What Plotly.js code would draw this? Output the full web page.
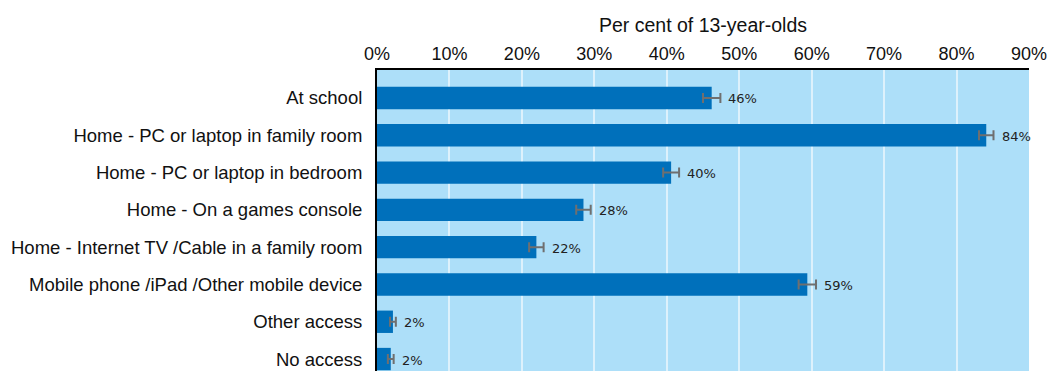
<!DOCTYPE html>
<html>
<head>
<meta charset="utf-8">
<script src="https://cdn.plot.ly/plotly-3.0.1.min.js"></script>
<style>html,body{margin:0;padding:0;background:#fff;}#chart{width:1055px;height:371px;}</style>
</head>
<body>
<div id="chart"></div>
<script>
const categories = [
  "At school",
  "Home - PC or laptop in family room",
  "Home - PC or laptop in bedroom",
  "Home - On a games console",
  "Home - Internet TV /Cable in a family room",
  "Mobile phone /iPad /Other mobile device",
  "Other access",
  "No access"
];
const values = [46.2, 84.1, 40.6, 28.5, 22.0, 59.4, 2.2, 1.9];
const errors = [1.2, 1.0, 1.1, 1.0, 1.0, 1.2, 0.4, 0.4];
const valueLabels = ["46%", "84%", "40%", "28%", "22%", "59%", "2%", "2%"];
const tickVals = [0, 10, 20, 30, 40, 50, 60, 70, 80, 90];
const tickText = ["0%", "10%", "20%", "30%", "40%", "50%", "60%", "70%", "80%", "90%"];

const trace = {
  type: 'bar',
  orientation: 'h',
  y: categories,
  x: values,
  width: 0.6,
  marker: {color: '#0070BB'},
  error_x: {type: 'data', array: errors, visible: true, color: '#6f6f6f', thickness: 2, width: 5},
  hoverinfo: 'none'
};

const annotations = categories.map((c, i) => ({
  x: values[i] + errors[i],
  y: c,
  xref: 'x', yref: 'y',
  text: valueLabels[i],
  showarrow: false,
  xanchor: 'left',
  xshift: 6,
  yshift: -1,
  font: {family: 'DejaVu Sans, sans-serif', size: 13, color: '#222'}
}));

const layout = {
  width: 1055, height: 371,
  margin: {l: 377, r: 26, t: 70, b: 0, pad: 0},
  paper_bgcolor: '#ffffff',
  plot_bgcolor: '#ADDFF9',
  showlegend: false,
  font: {family: 'Liberation Sans, Arial, sans-serif', size: 18, color: '#111'},
  xaxis: {
    side: 'top',
    range: [0, 90],
    tickvals: tickVals,
    ticktext: tickText,
    showgrid: true,
    gridcolor: '#DDF1FC',
    gridwidth: 2,
    zeroline: false,
    showline: true,
    linecolor: '#000',
    linewidth: 2,
    ticks: '',
    ticklabelstandoff: 1,
    tickfont: {size: 18},
    title: {text: 'Per cent of 13-year-olds', font: {size: 19.5}, standoff: 6}
  },
  yaxis: {
    type: 'category',
    range: [7.32, -0.75],
    showgrid: false,
    zeroline: false,
    showline: true,
    linecolor: '#000',
    linewidth: 2,
    ticks: '',
    ticklabelstandoff: 9,
    tickfont: {size: 18.5}
  },
  annotations: annotations
};

Plotly.newPlot('chart', [trace], layout, {displayModeBar: false, staticPlot: true});
</script>
</body>
</html>
